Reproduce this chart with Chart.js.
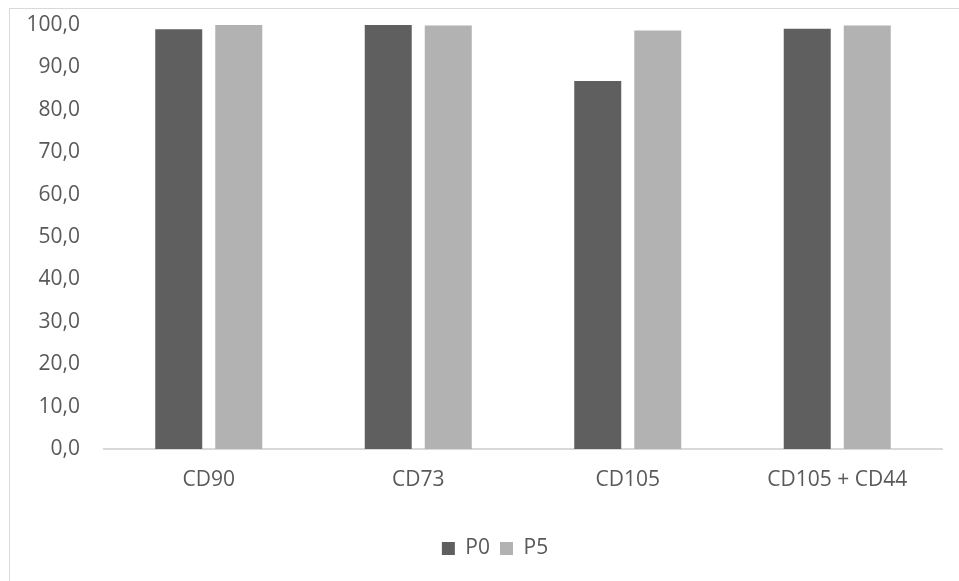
<!DOCTYPE html>
<html>
<head>
<meta charset="utf-8">
<script src="https://cdn.jsdelivr.net/npm/chart.js@4"></script>
<style>
  html, body { margin: 0; padding: 0; background: #fff; }
  #wrap { position: relative; width: 959px; height: 581px; overflow: hidden; }
  #frame { position: absolute; left: 9px; top: 8px; width: 1000px; height: 700px;
           border-top: 1px solid #d9d9d9; border-left: 1px solid #d9d9d9; }
  canvas { position: absolute; left: 0; top: 0; }
</style>
</head>
<body>
<div id="wrap">
  <div id="frame"></div>
  <canvas id="myChart" width="959" height="581"></canvas>
</div>
<script>
// Kategorien und Werte
const categories = ['CD90', 'CD73', 'CD105', 'CD105 + CD44'];
const p0Values = [99.0, 100.0, 86.8, 99.1];
const p5Values = [100.0, 99.9, 98.7, 99.9];
const seriesNames = ['P0', 'P5'];
const yTicks = [0, 10, 20, 30, 40, 50, 60, 70, 80, 90, 100];

const textColor = '#595959';
const fontFamily = '"Open Sans", sans-serif';

// Legende etwas nach rechts schieben (wie im Original)
const legendShift = {
    id: 'legendShift',
    afterLayout(chart) {
        chart.legend.left += 24;
        chart.legend.right += 24;
    }
};

const ctx = document.getElementById('myChart').getContext('2d');

new Chart(ctx, {
    type: 'bar',
    data: {
        labels: categories,
        datasets: [
            {
                label: seriesNames[0],
                data: p0Values,
                backgroundColor: '#5f5f5f',
                categoryPercentage: 0.573,
                barPercentage: 0.783
            },
            {
                label: seriesNames[1],
                data: p5Values,
                backgroundColor: '#b2b2b2',
                categoryPercentage: 0.573,
                barPercentage: 0.783
            }
        ]
    },
    plugins: [legendShift],
    options: {
        responsive: false,
        animation: false,
        layout: {
            padding: { left: 0, right: 17, top: 25, bottom: 12 }
        },
        plugins: {
            tooltip: { enabled: false },
            legend: {
                position: 'bottom',
                labels: {
                    color: textColor,
                    font: { family: fontFamily, size: 21 },
                    boxWidth: 13,
                    boxHeight: 13,
                    padding: 10
                }
            }
        },
        scales: {
            x: {
                grid: { display: false, drawTicks: false },
                border: { color: '#d9d9d9', width: 2 },
                ticks: {
                    color: textColor,
                    font: { family: fontFamily, size: 21 },
                    padding: 18
                },
                afterFit: scale => { scale.height = 79; }
            },
            y: {
                min: 0,
                max: 100,
                afterBuildTicks: scale => { scale.ticks = yTicks.map(v => ({ value: v })); },
                grid: { display: false, drawTicks: false },
                border: { display: false },
                ticks: {
                    color: textColor,
                    font: { family: fontFamily, size: 21 },
                    padding: 24,
                    callback: v => v.toFixed(1).replace('.', ',')
                },
                afterFit: scale => {
                    scale.width = 104;
                    scale.paddingTop = 0;
                    scale.paddingBottom = 0;
                }
            }
        }
    }
});
</script>
</body>
</html>
